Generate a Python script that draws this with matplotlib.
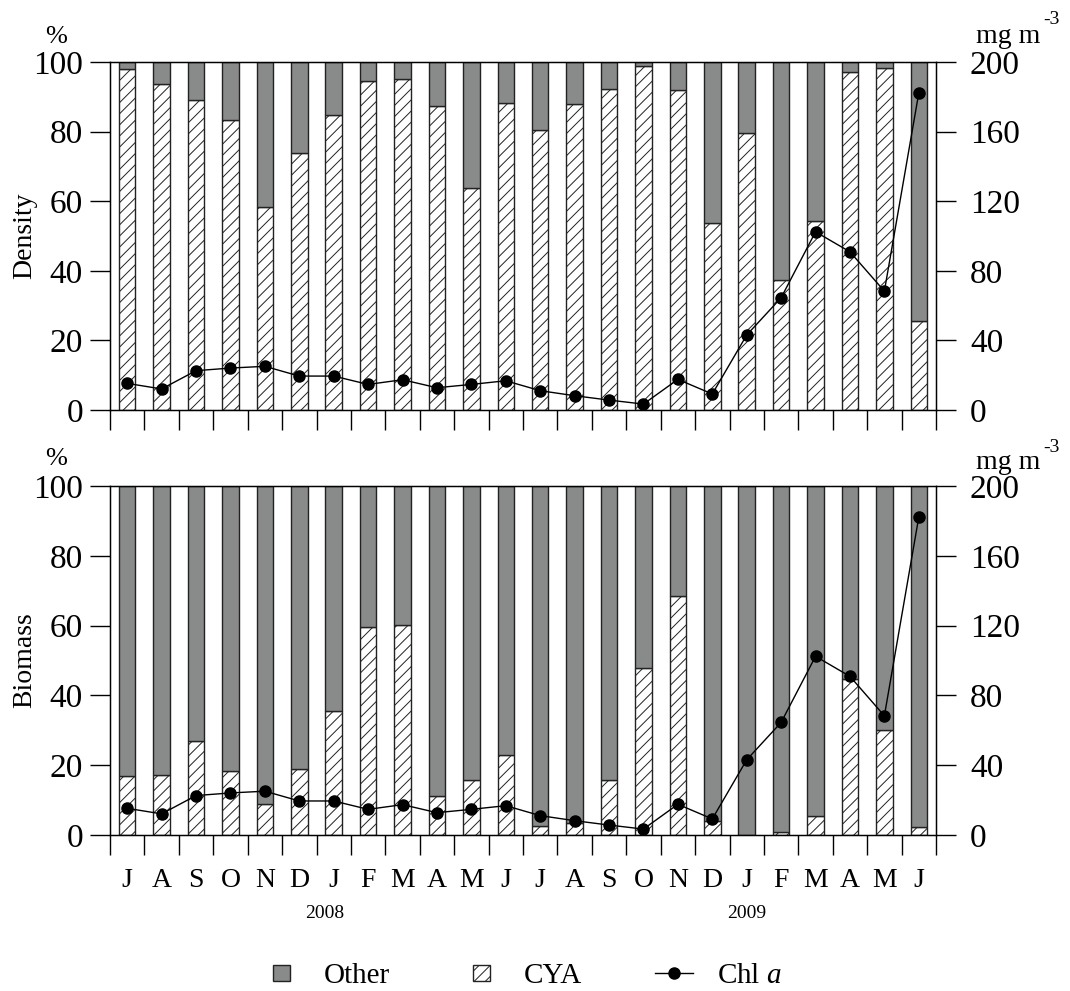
# Phytoplankton density / biomass share with Chl a, two stacked panels
import matplotlib.pyplot as plt
import matplotlib.patches as mpatches
from matplotlib.lines import Line2D
from matplotlib.legend_handler import HandlerPatch
import numpy as np

plt.rcParams['font.family'] = 'Liberation Serif'
plt.rcParams['mathtext.fontset'] = 'custom'
plt.rcParams['mathtext.rm'] = 'Liberation Serif'
plt.rcParams['mathtext.it'] = 'Liberation Serif:italic'
plt.rcParams['hatch.linewidth'] = 0.7

months = ['J', 'A', 'S', 'O', 'N', 'D', 'J', 'F', 'M', 'A', 'M', 'J',
          'J', 'A', 'S', 'O', 'N', 'D', 'J', 'F', 'M', 'A', 'M', 'J']
years = ['2008', '2009']
year_pos = [5.75, 18.0]

# CYA share (%) of density and biomass, rest is "Other"
cya_density = [97.9, 93.6, 89.2, 83.3, 58.4, 73.9, 84.7, 94.5, 95.2, 87.3, 63.8, 88.2,
               80.4, 87.8, 92.1, 98.8, 91.9, 53.8, 79.7, 37.3, 54.3, 97.0, 98.3, 25.6]
cya_biomass = [16.9, 17.2, 27.0, 18.3, 9.0, 18.8, 35.6, 59.6, 60.1, 11.2, 15.7, 22.9,
               2.7, 3.5, 15.7, 47.9, 68.6, 4.0, 0.0, 1.0, 5.4, 44.8, 30.2, 2.4]
# Chl a (mg m-3)
chl = [15.3, 12.1, 22.6, 24.1, 25.1, 19.5, 19.5, 14.7, 17.4, 12.8, 14.7, 16.8,
       11.1, 8.2, 5.7, 3.4, 17.6, 9.2, 43.1, 64.5, 102.4, 90.9, 68.3, 182.2]

gray = '#898b8b'
edge = '#222222'

W, H = 1070, 991
fig = plt.figure(figsize=(W / 100, H / 100), dpi=100)


def px_axes(l, t, r, b):
    return fig.add_axes([l / W, 1 - b / H, (r - l) / W, (b - t) / H])


def draw_panel(ax, cya, ylabel, show_months):
    x = np.arange(len(months))
    cya = np.array(cya)
    ax.bar(x, cya, width=0.48, color='white', edgecolor=edge, hatch='///', linewidth=1.0, zorder=2)
    ax.bar(x, 100 - cya, bottom=cya, width=0.48, color=gray, edgecolor=edge, linewidth=1.0, zorder=2)
    ax.set_xlim(-0.5, len(months) - 0.5)
    ax.set_ylim(0, 100)
    ax.set_yticks(np.arange(0, 101, 20))
    ax.set_xticks(np.arange(-0.5, len(months), 1))
    ax.set_xticklabels([])
    if show_months:
        ax.set_xticks(x, labels=months, minor=True)
    else:
        ax.set_xticks(x, minor=True)
    ax.tick_params(axis='x', which='major', direction='out', length=14.4, width=1.0)
    ax.tick_params(axis='x', which='minor', length=0, pad=24, labelsize=20)
    ax.tick_params(axis='y', direction='out', length=14.4, width=1.0, labelsize=24, pad=5)
    ax.set_ylabel(ylabel, fontsize=20)
    ax.yaxis.set_label_coords(-0.088, 0.5)
    for s in ax.spines.values():
        s.set_linewidth(1.0)

    ax2 = ax.twinx()
    ax2.plot(x, chl, color='black', lw=1.0, marker='o', ms=8, zorder=3)
    ax2.set_ylim(0, 200)
    ax2.set_yticks(np.arange(0, 201, 40))
    ax2.tick_params(axis='y', direction='out', length=14.4, width=1.0, labelsize=24, pad=10)
    return ax2


ax_top = px_axes(110, 62, 936, 410)
ax_bot = px_axes(110, 486, 936, 835)
draw_panel(ax_top, cya_density, 'Density', False)
draw_panel(ax_bot, cya_biomass, 'Biomass', True)

for yr, xp in zip(years, year_pos):
    ax_bot.text(xp, -0.225, yr, transform=ax_bot.get_xaxis_transform(),
                ha='center', va='center', fontsize=14)

# unit labels
for ytop in (37, 459):
    fig.text(56 / W, 1 - ytop / H, '%', ha='center', va='center', fontsize=19)
for ybase, ysup in ((43, 20), (469, 448)):
    fig.text(1008 / W, 1 - ybase / H, 'mg m', ha='center', va='baseline', fontsize=20)
    fig.text(1051 / W, 1 - ysup / H, '-3', ha='center', va='center', fontsize=14)


def square(legend, orig_handle, xdescent, ydescent, width, height, fontsize):
    s = 0.58 * fontsize
    return mpatches.Rectangle((-xdescent + (width - s) / 2, -ydescent + (height - s) / 2), s, s)


handles = [mpatches.Patch(facecolor=gray, edgecolor=edge, linewidth=1.0),
           mpatches.Patch(facecolor='white', edgecolor=edge, hatch='///', linewidth=1.0),
           Line2D([], [], color='black', lw=1.0, marker='o', ms=8)]
labels = ['Other', 'CYA', 'Chl $\\it{a}$']
fig.legend(handles, labels, loc='center', bbox_to_anchor=(522 / W, 1 - 976 / H), ncol=3,
           frameon=False, fontsize=21, handlelength=1.3, handletextpad=0.8,
           columnspacing=2.5,
           handler_map={mpatches.Patch: HandlerPatch(patch_func=square)})

fig.savefig('out.png', dpi=100)
